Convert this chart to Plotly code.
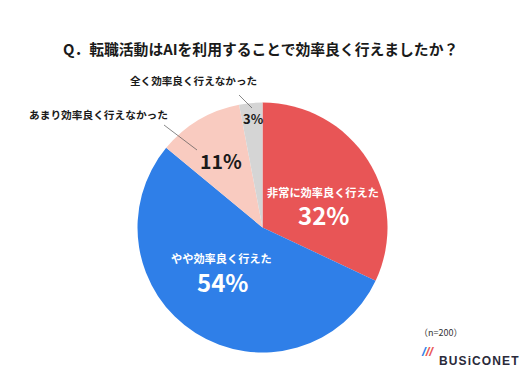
import plotly.graph_objects as go

W, H = 525, 375
FONT = "Noto Sans CJK JP"

categories = ["非常に効率良く行えた", "やや効率良く行えた", "あまり効率良く行えなかった", "全く効率良く行えなかった"]
values = [32, 54, 11, 3]
colors = ["#E85556", "#2F7FE8", "#F9CBC0", "#D5D5D5"]
title = "Q．転職活動はAIを利用することで効率良く行えましたか？"
note = "（n=200）"
brand = "BUSiCONET"

cx, cy, r = 262.5, 227.5, 125


def px(x):
    return x / W


def py(y):
    return 1 - y / H


fig = go.Figure(
    go.Pie(
        labels=categories,
        values=values,
        sort=False,
        direction="clockwise",
        rotation=0,
        textinfo="none",
        hoverinfo="label+percent",
        showlegend=False,
        marker=dict(colors=colors, line=dict(width=0)),
        domain=dict(x=[px(cx - r), px(cx + r)], y=[py(cy + r), py(cy - r)]),
    )
)


def text(x, y, s, size, color="#1A1A1A", bold=True, anchor="center"):
    fig.add_annotation(
        x=px(x), y=py(y), xref="paper", yref="paper", xanchor=anchor, yanchor="middle",
        text=f"<b>{s}</b>" if bold else s, showarrow=False,
        font=dict(family=FONT, size=size, color=color),
    )


text(260, 48, title, 14.8)
text(193.5, 81, categories[3], 10.6)
text(98, 115, categories[2], 10.7)
text(323, 192, categories[0], 11.2, "#FFFFFF")
text(323, 214, f"{values[0]}%", 24, "#FFFFFF")
text(221.5, 258, categories[1], 11.2, "#FFFFFF")
text(222, 281, f"{values[1]}%", 24, "#FFFFFF")
text(221, 160, f"{values[2]}%", 19.5)
text(253, 118, f"{values[3]}%", 13)
text(440, 332, note, 9, "#333333", bold=False)
fig.add_annotation(
    x=px(437), y=py(361), xref="paper", yref="paper", xanchor="left", yanchor="middle", showarrow=False,
    text=f'<span style="letter-spacing:1.1px"><b>{brand}</b></span>',
    font=dict(family="Liberation Sans", size=12, color="#2A2A3A"),
)
fig.add_annotation(
    x=px(436), y=py(361), xref="paper", yref="paper", showarrow=False,
    text='<b><i><span style="color:#2F7FE8">/</span><span style="color:#E85556">//</span></i></b>',
    font=dict(family="Liberation Sans", size=13),
)

for x0, y0, x1, y1 in [(239, 95, 252, 108), (164, 125, 197, 150)]:
    fig.add_shape(
        type="line", xref="paper", yref="paper",
        x0=px(x0), y0=py(y0), x1=px(x1), y1=py(y1),
        line=dict(color="#555555", width=0.7),
    )

fig.update_layout(
    width=W, height=H, margin=dict(l=0, r=0, t=0, b=0),
    paper_bgcolor="#FFFFFF", plot_bgcolor="#FFFFFF",
)
fig.write_html(
    "out.html",
    config=dict(displayModeBar=False),
    post_script="document.body.style.margin='0';document.body.style.overflow='hidden';",
)
